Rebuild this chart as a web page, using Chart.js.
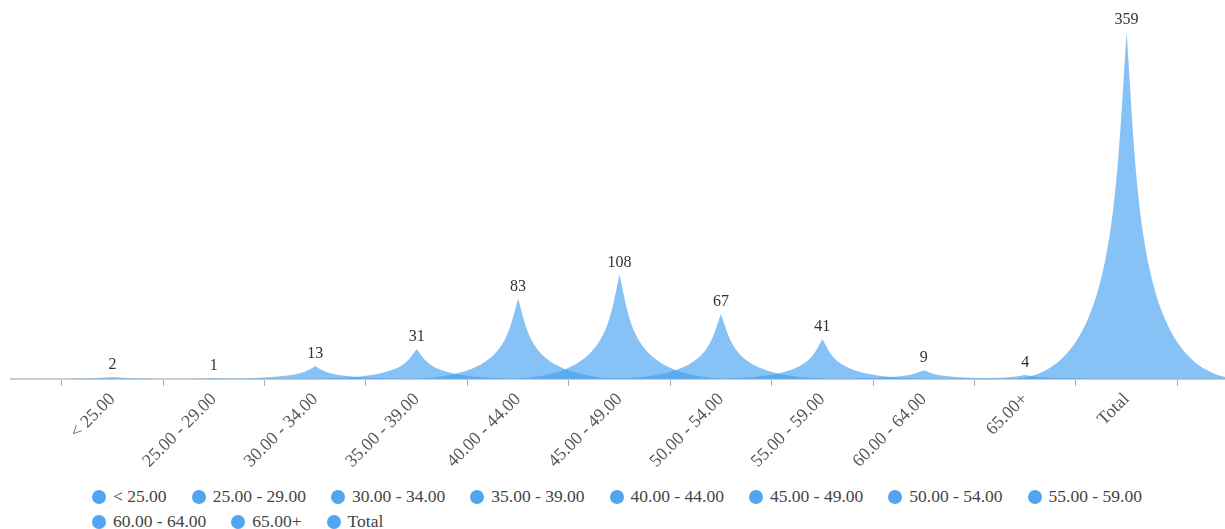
<!DOCTYPE html>
<html>
<head>
<meta charset="utf-8">
<script src="https://cdn.jsdelivr.net/npm/chart.js@4.4.1/dist/chart.umd.min.js"></script>
<style>
  html, body { margin: 0; padding: 0; background: #fff; }
  #wrap { position: relative; width: 1225px; height: 484px; }
  #legend {
    display: flex; flex-wrap: wrap; width: 1133px; padding-left: 92px;
    font: 17.5px 'Liberation Serif', 'Times New Roman', serif; color: #444;
  }
  #legend .item { display: flex; align-items: center; height: 25px; margin-right: 25px; cursor: pointer; white-space: nowrap; }
  #legend .item.off { opacity: 0.4; }
  #legend .dot { width: 14px; height: 14px; border-radius: 50%; margin-right: 7px; }
</style>
</head>
<body>
<div id="wrap"><canvas id="chart"></canvas></div>
<div id="legend"></div>
<script>
// categories / tick labels
const categories = ['< 25.00', '25.00 - 29.00', '30.00 - 34.00', '35.00 - 39.00', '40.00 - 44.00',
  '45.00 - 49.00', '50.00 - 54.00', '55.00 - 59.00', '60.00 - 64.00', '65.00+', 'Total']
const tickLabels = categories
// one count per bucket
const counts = [2, 1, 13, 31, 83, 108, 67, 41, 9, 4, 359]

const spikeFill = 'rgba(64, 158, 240, 0.63)'
const dotColor = '#52a5ef'
const spikeSpan = 2.3 // spike base width, in category widths (they overlap)

// every bucket is its own dataset so each gets a legend entry
const datasets = categories.map((name, i) => ({
  label: name,
  data: [{ x: i, y: counts[i] }],
  backgroundColor: spikeFill,
  borderColor: dotColor
}))

// draw each bar as a concave spike instead of a rectangle
const spikes = {
  id: 'spikes',
  beforeDatasetDraw(chart, args) {
    const el = args.meta.data[0]
    if (!el) return false
    const xs = chart.scales.x
    const half = Math.abs(xs.getPixelForValue(1) - xs.getPixelForValue(0)) * spikeSpan / 2
    const { x, y, base } = el
    const mid = (y + base) / 2
    const k = half * 0.1
    const ctx = chart.ctx
    ctx.save()
    ctx.beginPath()
    ctx.moveTo(x - half, base)
    ctx.lineTo(x + half, base)
    ctx.bezierCurveTo(x + k, base, x + k, mid, x, y)
    ctx.bezierCurveTo(x - k, mid, x - k, base, x - half, base)
    ctx.closePath()
    ctx.fillStyle = chart.data.datasets[args.index].backgroundColor
    ctx.fill()
    ctx.restore()
    return false
  }
}

// value above each peak
const peakLabels = {
  id: 'peakLabels',
  afterDatasetsDraw(chart) {
    const ctx = chart.ctx
    ctx.save()
    ctx.font = '16px "Liberation Serif", "Times New Roman", serif'
    ctx.fillStyle = '#333'
    ctx.textAlign = 'center'
    ctx.textBaseline = 'bottom'
    chart.data.datasets.forEach((ds, i) => {
      const meta = chart.getDatasetMeta(i)
      if (meta.hidden || !meta.data[0]) return
      const el = meta.data[0]
      ctx.fillText(String(ds.data[0].y), el.x, el.y - 4)
    })
    ctx.restore()
  }
}

// legend as html below the canvas
const htmlLegend = {
  id: 'htmlLegend',
  afterUpdate(chart) {
    const box = document.getElementById('legend')
    box.innerHTML = ''
    const items = chart.options.plugins.legend.labels.generateLabels(chart)
    items.forEach(item => {
      const row = document.createElement('div')
      row.className = 'item' + (item.hidden ? ' off' : '')
      const dot = document.createElement('span')
      dot.className = 'dot'
      dot.style.background = item.strokeStyle
      const text = document.createElement('span')
      text.textContent = item.text
      row.appendChild(dot)
      row.appendChild(text)
      row.onclick = () => {
        chart.setDatasetVisibility(item.datasetIndex, !chart.isDatasetVisible(item.datasetIndex))
        chart.update()
      }
      box.appendChild(row)
    })
  }
}

new Chart(document.getElementById('chart'), {
  type: 'bar',
  data: { datasets },
  plugins: [spikes, peakLabels, htmlLegend],
  options: {
    animation: false,
    responsive: true,
    maintainAspectRatio: false,
    layout: { padding: { left: 11, top: 32, bottom: 9 } },
    datasets: { bar: { grouped: false, categoryPercentage: 1, barPercentage: 1 } },
    plugins: {
      legend: { display: false },
      tooltip: { enabled: false }
    },
    scales: {
      x: {
        type: 'linear',
        offset: false,
        min: -1,
        max: 10.97,
        afterBuildTicks: (axis) => {
          axis.ticks = tickLabels.map((_, i) => ({ value: i }))
        },
        grid: { offset: true, drawOnChartArea: false, tickLength: 7, color: '#aaa' },
        border: { color: '#ccc', width: 2 },
        ticks: {
          autoSkip: false,
          minRotation: 45,
          maxRotation: 45,
          color: '#555',
          font: { family: "'Liberation Serif', 'Times New Roman', serif", size: 18 },
          callback: (v) => tickLabels[v]
        }
      },
      y: { display: false, min: 0, max: Math.max(...counts) }
    }
  }
})
</script>
</body>
</html>
